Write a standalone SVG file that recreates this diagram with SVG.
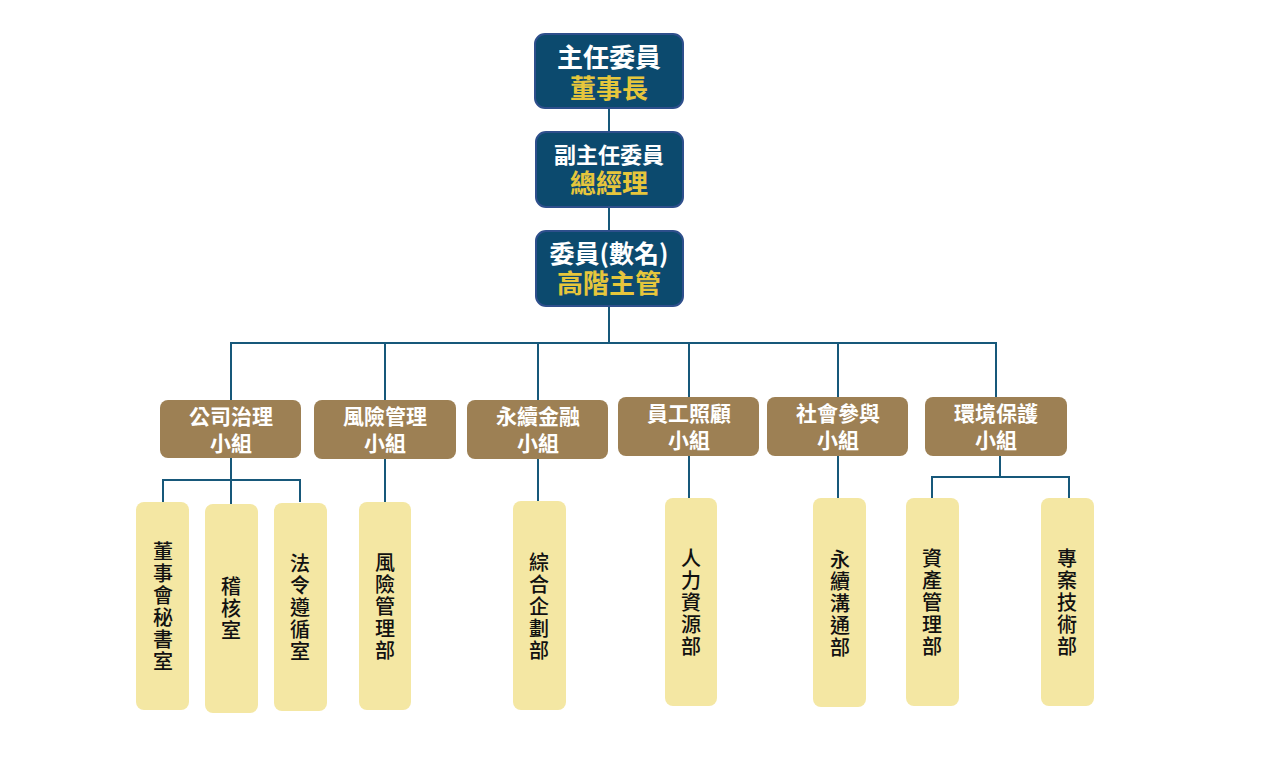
<svg xmlns="http://www.w3.org/2000/svg" width="1288" height="777" viewBox="0 0 1288 777">
<style>
.top{fill:#0c4a6e;stroke:#2e4f8c;stroke-width:2}
.grp{fill:#9d8054}
.dep{fill:#f4e7a3}
.t{font-family:"Noto Sans CJK TC","Noto Sans CJK SC",sans-serif;text-anchor:middle}
.w{fill:#ffffff;font-weight:bold}
.g{fill:#e6c63c;font-weight:bold}
.k{fill:#111111;font-size:20px;font-weight:500;writing-mode:vertical-rl;letter-spacing:2px}
.c{fill:none;stroke:#17587a;stroke-width:2}
</style>
<rect width="1288" height="777" fill="#ffffff"/>
<g id="connectors">
<path class="c" d="M609,108V132M609,207V231M609,306V343"/>
<path class="c" d="M231,400V343H996V397M385,343V400M538,343V400M689,343V397M838,343V397"/>
<path class="c" d="M231,458V480M163,502V480H300V502M231,480V504"/>
<path class="c" d="M385,459V502M538,459V501M689,456V498M838,456V498"/>
<path class="c" d="M1000,456V477M932,498V477H1069V498"/>
</g>
<g id="n-chairman">
<rect class="top" x="535" y="34" width="148" height="74" rx="10"/>
<text class="t w" font-size="26"><tspan x="609" y="67">主任委員</tspan><tspan class="g" x="609" y="98">董事長</tspan></text>
</g>
<g id="n-vice">
<rect class="top" x="536" y="132" width="147" height="75" rx="10"/>
<text class="t w" font-size="22"><tspan x="609" y="163">副主任委員</tspan><tspan class="g" x="609" y="193" font-size="26">總經理</tspan></text>
</g>
<g id="n-members">
<rect class="top" x="536" y="231" width="147" height="75" rx="10"/>
<text class="t w" font-size="25"><tspan x="609" y="263">委員(數名)</tspan><tspan class="g" x="609" y="293" font-size="26">高階主管</tspan></text>
</g>
<g id="g-gov">
<rect class="grp" x="160" y="400" width="141" height="58" rx="8"/>
<text class="t w" font-size="21"><tspan x="231" y="424">公司治理</tspan><tspan x="231" y="451">小組</tspan></text>
</g>
<g id="g-risk">
<rect class="grp" x="314" y="400" width="142" height="59" rx="8"/>
<text class="t w" font-size="21"><tspan x="385" y="424">風險管理</tspan><tspan x="385" y="451">小組</tspan></text>
</g>
<g id="g-fin">
<rect class="grp" x="467" y="400" width="141" height="59" rx="8"/>
<text class="t w" font-size="21"><tspan x="538" y="424">永續金融</tspan><tspan x="538" y="451">小組</tspan></text>
</g>
<g id="g-emp">
<rect class="grp" x="618" y="397" width="141" height="59" rx="8"/>
<text class="t w" font-size="21"><tspan x="689" y="421">員工照顧</tspan><tspan x="689" y="448">小組</tspan></text>
</g>
<g id="g-soc">
<rect class="grp" x="767" y="397" width="141" height="59" rx="8"/>
<text class="t w" font-size="21"><tspan x="838" y="421">社會參與</tspan><tspan x="838" y="448">小組</tspan></text>
</g>
<g id="g-env">
<rect class="grp" x="925" y="397" width="142" height="59" rx="8"/>
<text class="t w" font-size="21"><tspan x="996" y="421">環境保護</tspan><tspan x="996" y="448">小組</tspan></text>
</g>
<g id="d-board">
<rect class="dep" x="136" y="502" width="53" height="208" rx="8"/>
<text class="t k" x="163" y="607">董事會秘書室</text>
</g>
<g id="d-audit">
<rect class="dep" x="205" y="504" width="53" height="209" rx="8"/>
<text class="t k" x="231" y="609">稽核室</text>
</g>
<g id="d-legal">
<rect class="dep" x="274" y="503" width="53" height="208" rx="8"/>
<text class="t k" x="300" y="608">法令遵循室</text>
</g>
<g id="d-risk">
<rect class="dep" x="359" y="502" width="52" height="208" rx="8"/>
<text class="t k" x="385" y="607">風險管理部</text>
</g>
<g id="d-plan">
<rect class="dep" x="513" y="501" width="53" height="209" rx="8"/>
<text class="t k" x="539" y="607">綜合企劃部</text>
</g>
<g id="d-hr">
<rect class="dep" x="665" y="498" width="52" height="208" rx="8"/>
<text class="t k" x="691" y="603">人力資源部</text>
</g>
<g id="d-comm">
<rect class="dep" x="813" y="498" width="53" height="209" rx="8"/>
<text class="t k" x="840" y="604">永續溝通部</text>
</g>
<g id="d-asset">
<rect class="dep" x="906" y="498" width="53" height="208" rx="8"/>
<text class="t k" x="932" y="603">資產管理部</text>
</g>
<g id="d-proj">
<rect class="dep" x="1041" y="498" width="53" height="208" rx="8"/>
<text class="t k" x="1067" y="603">專案技術部</text>
</g>
</svg>
